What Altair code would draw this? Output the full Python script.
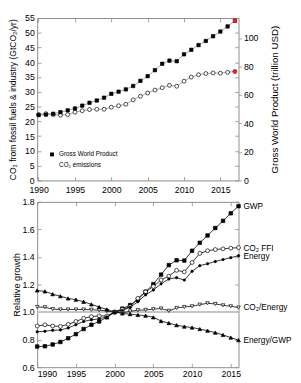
import altair as alt
import pandas as pd

# ---------------- data ----------------
years_top = list(range(1990, 2018))
gwp_trillion_usd = [45.9, 46.2, 46.8, 47.9, 49.2, 50.5, 52.5, 54.5, 56.1, 58.1,
                    60.8, 62.3, 63.9, 66.3, 69.9, 73.2, 77.4, 81.9, 84.1, 83.7,
                    88.5, 91.7, 95.0, 97.9, 101.2, 104.5, 108.1, 112.1]
co2_gtco2 = [22.3, 22.6, 22.3, 22.1, 22.3, 23.1, 23.6, 24.0, 24.1, 24.1,
             24.8, 25.3, 25.8, 27.3, 28.5, 29.6, 30.6, 31.4, 32.2, 31.9,
             33.6, 35.0, 35.8, 36.2, 36.4, 36.3, 36.6, 36.9]
top_names = ["Gross World Product", "CO₂ emissions"]

years_rel = list(range(1990, 2017))
rel_gwp = [0.75, 0.752, 0.765, 0.783, 0.81, 0.84, 0.877, 0.908, 0.932, 0.962,
           1.0, 1.025, 1.051, 1.09, 1.148, 1.203, 1.272, 1.341, 1.376, 1.374,
           1.445, 1.503, 1.556, 1.61, 1.662, 1.717, 1.769]
rel_co2_ffi = [0.899, 0.908, 0.899, 0.896, 0.911, 0.932, 0.955, 0.967, 0.972, 0.972,
               1.0, 1.02, 1.04, 1.10, 1.147, 1.186, 1.233, 1.261, 1.303, 1.292,
               1.36, 1.426, 1.445, 1.454, 1.459, 1.464, 1.468]
rel_energy = [0.857, 0.861, 0.868, 0.870, 0.885, 0.908, 0.932, 0.944, 0.951, 0.965,
              1.0, 1.012, 1.035, 1.075, 1.125, 1.16, 1.205, 1.24, 1.25, 1.232,
              1.296, 1.337, 1.351, 1.367, 1.381, 1.395, 1.409]
rel_co2_per_energy = [1.037, 1.035, 1.022, 1.019, 1.019, 1.019, 1.019, 1.017, 1.014, 1.008,
                      1.0, 0.995, 1.005, 1.014, 1.016, 1.021, 1.026, 1.009, 1.03, 1.037,
                      1.042, 1.054, 1.064, 1.059, 1.049, 1.042, 1.033]
rel_energy_per_gwp = [1.157, 1.15, 1.13, 1.115, 1.099, 1.09, 1.075, 1.056, 1.037, 1.019,
                      1.0, 0.99, 0.985, 0.979, 0.974, 0.962, 0.935, 0.92, 0.905, 0.895,
                      0.888, 0.877, 0.865, 0.851, 0.834, 0.815, 0.796]
rel_names = ["GWP", "CO₂ FFI", "Energy", "CO₂/Energy", "Energy/GWP"]
rel_series = [rel_gwp, rel_co2_ffi, rel_energy, rel_co2_per_energy, rel_energy_per_gwp]
reference_level = [1.0]

x_ticks = [1990, 1995, 2000, 2005, 2010, 2015]
co2_ticks = list(range(0, 56, 5))
gwp_ticks = [0, 20, 40, 60, 80, 100]
rel_ticks = [0.6, 0.8, 1.0, 1.2, 1.4, 1.6, 1.8]

# ---------------- style ----------------
FONT = "Liberation Sans"
GRAY = "#8c8c8c"
W = 207
H_TOP = 167
H_BOT = 170


def inner_axis(orient, values, labels=True, fmt=None, title=None, **kw):
    args = dict(orient=orient, values=values, labels=labels, offset=-4, tickSize=4,
                domain=False, grid=False, tickColor=GRAY, tickWidth=0.8,
                labelFontSize=9, labelPadding=3, title=title)
    if fmt:
        args["format"] = fmt
    args.update(kw)
    return alt.Axis(**args)


# ---------------- top panel ----------------
df_co2 = pd.DataFrame({"year": years_top, "value": co2_gtco2, "series": top_names[1]})
df_gwp = pd.DataFrame({"year": years_top, "value": gwp_trillion_usd, "series": top_names[0]})

xs_top = alt.Scale(domain=[1989.8, 2017.5], nice=False, zero=False)
x_top_bottom = alt.X("year:Q", scale=xs_top,
                     axis=inner_axis("bottom", x_ticks, fmt="d", labelPadding=5))
x_top_mirror = alt.X("year:Q", scale=xs_top,
                     axis=inner_axis("top", x_ticks, labels=False))
x_top_none = alt.X("year:Q", scale=xs_top, axis=None)

co2_scale = alt.Scale(domain=[0, 55], nice=False)
y_co2 = alt.Y("value:Q", scale=co2_scale,
              axis=inner_axis("left", co2_ticks, fmt="d",
                              title="CO₂ from fossil fuels & industry (GtCO₂/yr)",
                              titleFontSize=8.8, titlePadding=7))
y_co2_mirror = alt.Y("value:Q", scale=co2_scale,
                     axis=inner_axis("right", co2_ticks, labels=False))
y_gwp = alt.Y("value:Q", scale=alt.Scale(domain=[0, 114], nice=False),
              axis=alt.Axis(orient="right", values=gwp_ticks, format="d", tickSize=3,
                            domain=False, grid=False, tickColor=GRAY, tickWidth=0.8,
                            labelFontSize=9, labelPadding=2,
                            title="Gross World Product (trillion USD)",
                            titleFontSize=10, titleAngle=270, titleBaseline="top",
                            titlePadding=12))

leg = alt.Legend(title=None, orient="bottom-left", offset=12, labelFontSize=6.5,
                 labelFont=FONT, symbolSize=16, symbolStrokeColor="black",
                 symbolStrokeWidth=0.7, rowPadding=3, padding=0, labelOffset=4)
shape_enc = alt.Shape("series:N", scale=alt.Scale(domain=top_names, range=["square", "circle"]),
                      legend=leg)
fill_enc = alt.Fill("series:N", scale=alt.Scale(domain=top_names, range=["black", "white"]),
                    legend=leg)

RED = "#ff1a1a"

co2_line = alt.Chart(df_co2).mark_line(color=GRAY, strokeWidth=0.8).encode(
    x=x_top_bottom, y=y_co2)
co2_pts = alt.Chart(df_co2).mark_point(filled=True, stroke="black", strokeWidth=0.7,
                                       opacity=1, size=16).encode(
    x=x_top_bottom, y=y_co2, shape=shape_enc, fill=fill_enc)
co2_red = alt.Chart(df_co2.tail(1)).mark_point(filled=True, shape="circle", color=RED,
                                               opacity=1, size=18).encode(
    x=x_top_none, y=y_co2_mirror)

gwp_line = alt.Chart(df_gwp).mark_line(color=GRAY, strokeWidth=0.8).encode(
    x=x_top_mirror, y=y_gwp)
gwp_pts = alt.Chart(df_gwp).mark_point(filled=True, stroke="black", strokeWidth=0.7,
                                       opacity=1, size=12).encode(
    x=x_top_mirror, y=y_gwp, shape=shape_enc, fill=fill_enc)
gwp_red = alt.Chart(df_gwp.tail(1)).mark_point(filled=True, shape="square", color=RED,
                                               opacity=1, size=14).encode(
    x=x_top_mirror, y=y_gwp)

top = alt.layer(alt.layer(co2_line, co2_pts), co2_red,
                alt.layer(gwp_line, gwp_pts, gwp_red)).resolve_scale(
    y="independent").resolve_axis(x="independent", y="independent").properties(
    width=W, height=H_TOP)

# ---------------- bottom panel ----------------
rows = []
for name, vals in zip(rel_names, rel_series):
    for yr, v in zip(years_rel, vals):
        rows.append({"year": yr, "value": v, "name": name})
df_rel = pd.DataFrame(rows)

xs_bot = alt.Scale(domain=[years_rel[0], years_rel[-1]], nice=False, zero=False)
ys_bot = alt.Scale(domain=[0.6, 1.8], nice=False, zero=False)
x_bot = alt.X("year:Q", scale=xs_bot, axis=inner_axis("bottom", x_ticks, fmt="d"))
y_bot = alt.Y("value:Q", scale=ys_bot,
              axis=inner_axis("left", rel_ticks, fmt=".1f", title="Relative growth",
                              titleFontSize=9.5, titlePadding=1))
x_bot_m = alt.X("year:Q", scale=xs_bot, axis=inner_axis("top", x_ticks, labels=False))
y_bot_m = alt.Y("value:Q", scale=ys_bot, axis=inner_axis("right", rel_ticks, labels=False))

ref = alt.Chart(pd.DataFrame({"value": reference_level})).mark_rule(
    color="#c4c4c4", strokeWidth=2).encode(y=y_bot)
lines = alt.Chart(df_rel).mark_line(color="black", strokeWidth=0.8).encode(
    x=x_bot, y=y_bot, detail="name:N")

marker_style = {
    "GWP": dict(shape="square", fill="black", size=13),
    "CO₂ FFI": dict(shape="circle", fill="white", size=16),
    "Energy": dict(shape="circle", fill="black", size=6),
    "CO₂/Energy": dict(shape="triangle-down", fill="white", size=14),
    "Energy/GWP": dict(shape="triangle-up", fill="black", size=15),
}
point_layers = []
for name in rel_names:
    st = marker_style[name]
    point_layers.append(
        alt.Chart(df_rel[df_rel["name"] == name]).mark_point(
            filled=True, shape=st["shape"], fill=st["fill"], size=st["size"],
            stroke="black", strokeWidth=0.7, opacity=1).encode(x=x_bot, y=y_bot))

df_lab = pd.DataFrame({"year": [years_rel[-1]] * len(rel_names),
                       "value": [s[-1] for s in rel_series],
                       "name": rel_names})
labels = alt.Chart(df_lab).mark_text(align="left", baseline="middle", dx=5, fontSize=8.5,
                                     font=FONT, color="black").encode(
    x=x_bot_m, y=y_bot_m, text="name:N")

bottom = alt.layer(alt.layer(ref, lines, *point_layers), labels).resolve_axis(
    x="independent", y="independent").properties(width=W, height=H_BOT)

chart = alt.vconcat(top, bottom, spacing=2).resolve_scale(
    shape="independent", fill="independent").resolve_legend(
    shape="independent", fill="independent").properties(
    padding={"left": 0, "right": 0, "top": 0, "bottom": 0}
).configure_view(stroke=GRAY, strokeWidth=1).configure_axis(
    labelFont=FONT, titleFont=FONT, labelColor="black", titleColor="black",
    titleFontWeight="normal"
).configure_text(font=FONT)

chart.save("out.html", embed_options={"renderer": "svg", "actions": False})
